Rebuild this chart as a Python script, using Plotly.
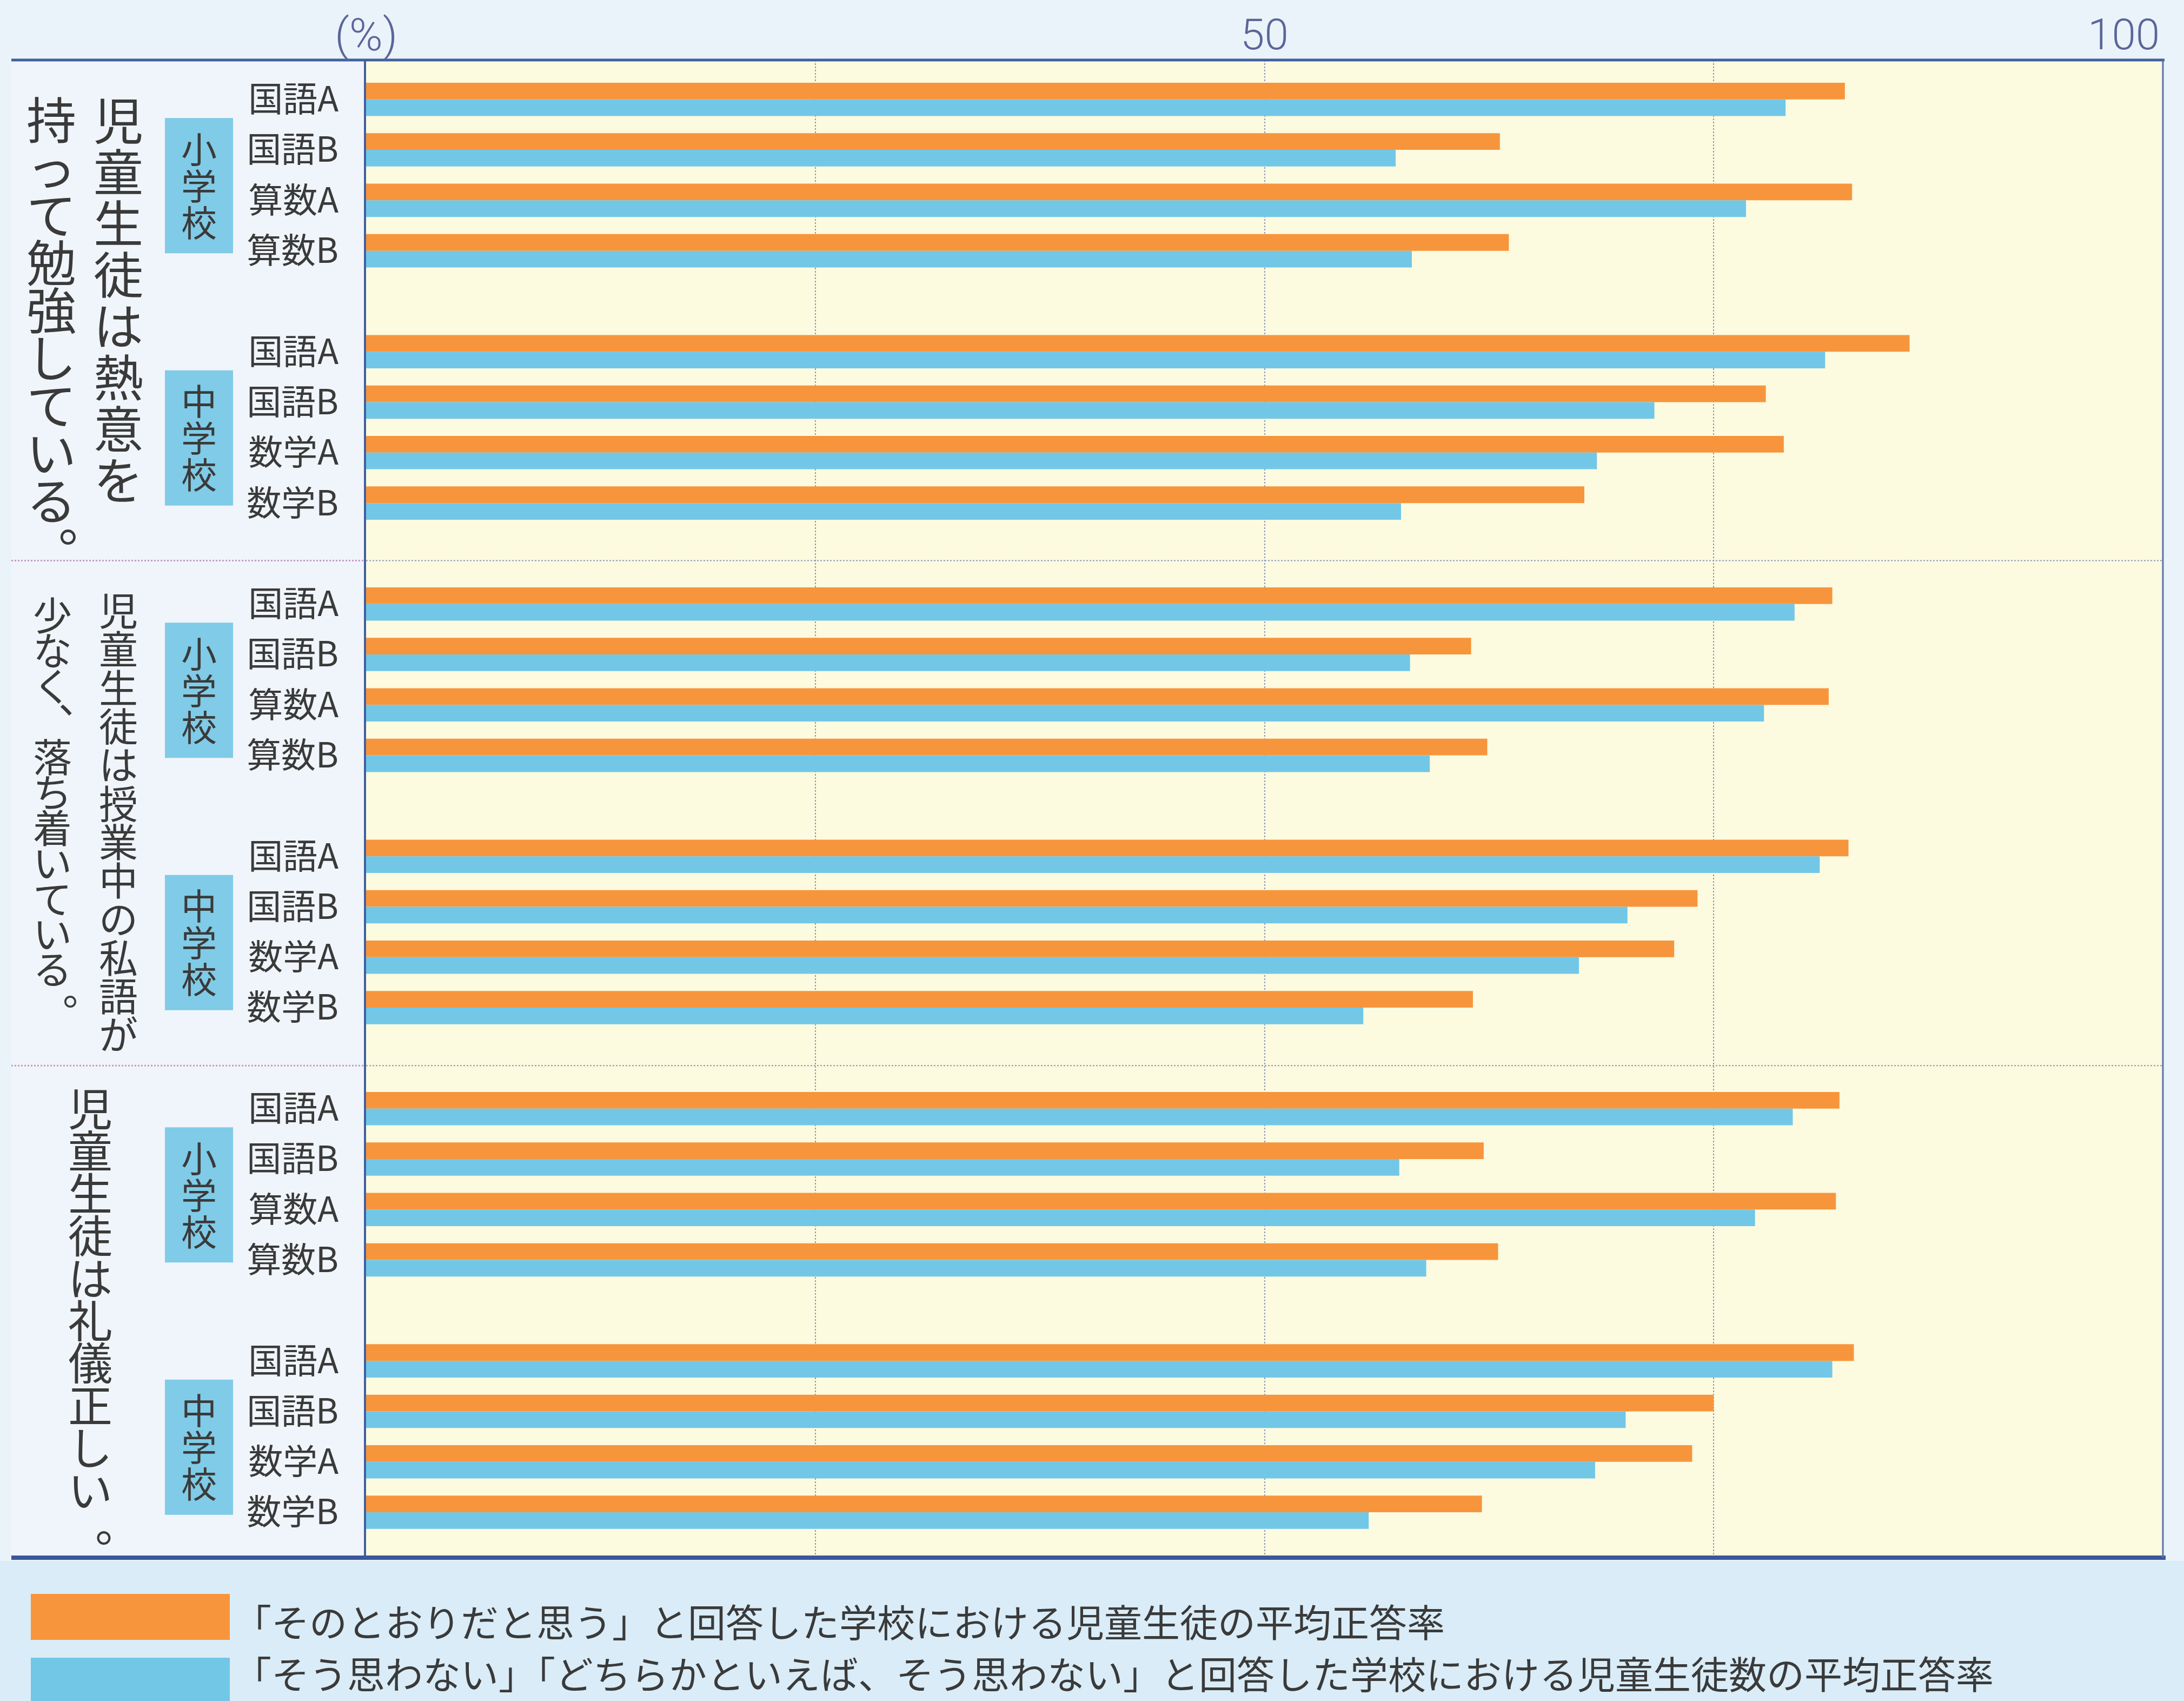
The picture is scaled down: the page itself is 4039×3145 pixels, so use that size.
import plotly.graph_objects as go

# ---------------- data ----------------
section_titles = [
    "児童生徒は熱意を持って勉強している。",
    "児童生徒は授業中の私語が少なく、落ち着いている。",
    "児童生徒は礼儀正しい。",
]
title_columns = [
    ["児童生徒は熱意を", "持って勉強している。"],
    ["児童生徒は授業中の私語が", "少なく、落ち着いている。"],
    ["児童生徒は礼儀正しい。"],
]
schools = ["小学校", "中学校"]
subjects = [
    ["国語A", "国語B", "算数A", "算数B"],
    ["国語A", "国語B", "数学A", "数学B"],
]
# 「そのとおりだと思う」 (orange), per section: 小学校 4 subjects + 中学校 4 subjects
agree = [
    [82.3, 63.1, 82.7, 63.6, 85.9, 77.9, 78.9, 67.8],
    [81.6, 61.5, 81.4, 62.4, 82.5, 74.1, 72.8, 61.6],
    [82.0, 62.2, 81.8, 63.0, 82.8, 75.0, 73.8, 62.1],
]
# 「そう思わない」「どちらかといえば、そう思わない」 (blue)
disagree = [
    [79.0, 57.3, 76.8, 58.2, 81.2, 71.7, 68.5, 57.6],
    [79.5, 58.1, 77.8, 59.2, 80.9, 70.2, 67.5, 55.5],
    [79.4, 57.5, 77.3, 59.0, 81.6, 70.1, 68.4, 55.8],
]
legend_labels = [
    "「そのとおりだと思う」と回答した学校における児童生徒の平均正答率",
    "「そう思わない」「どちらかといえば、そう思わない」と回答した学校における児童生徒数の平均正答率",
]
x_tick_vals = [0, 50, 100]
x_tick_text = ["(%)", "50", "100"]

# ---------------- layout constants ----------------
W, H = 4039, 3145
PLOT_L, PLOT_R, PLOT_T, PLOT_B = 677, 4000, 111, 2880
Y_TOP, Y_BOT = -0.78, 28.90          # slot range (reversed)
UNIT = (PLOT_B - PLOT_T) / (Y_BOT - Y_TOP)
LINE_SPACING = 1.3                   # plotly multi-line spacing (em)

ORANGE = "#f7953c"
BLUE = "#72c7e7"
BOX_BLUE = "#80cbe7"
TEXT = "#3a3a3a"
LINE_BLUE = "#42609f"
JP = "Noto Sans CJK JP"


def px_x(p):
    return p / W


def px_y(p):
    return 1 - p / H


def slot_to_px(s):
    return PLOT_T + (s - Y_TOP) * UNIT


def vertical(text, glyph_size):
    """Stack characters vertically; glyph size set per character."""
    return "<br>".join(f'<span style="font-size:{glyph_size}px">{ch}</span>' for ch in text)


# slots: 10 per section, 5 per school group (one empty slot between groups)
ys, xa, xb, ticktext = [], [], [], []
for s in range(len(section_titles)):
    for g in range(len(schools)):
        for i, name in enumerate(subjects[g]):
            ys.append(10 * s + 5 * g + i)
            xa.append(agree[s][4 * g + i])
            xb.append(disagree[s][4 * g + i])
            ticktext.append(name)

fig = go.Figure()
fig.add_trace(go.Bar(x=xa, y=ys, orientation="h", marker=dict(color=ORANGE, line=dict(width=0)),
                     name=legend_labels[0], showlegend=False))
fig.add_trace(go.Bar(x=xb, y=ys, orientation="h", marker=dict(color=BLUE, line=dict(width=0)),
                     name=legend_labels[1], showlegend=False))

shapes = []
annotations = []

# background areas
shapes.append(dict(type="rect", xref="paper", yref="paper", x0=px_x(21), x1=px_x(PLOT_L),
                   y0=px_y(PLOT_B), y1=px_y(PLOT_T), fillcolor="#f0f5fb", line=dict(width=0), layer="below"))
shapes.append(dict(type="rect", xref="paper", yref="paper", x0=0, x1=1,
                   y0=0, y1=px_y(PLOT_B + 6), fillcolor="#d9ecf7", line=dict(width=0), layer="below"))

# frame lines
shapes.append(dict(type="line", xref="paper", yref="paper", x0=px_x(21), x1=px_x(PLOT_R + 3),
                   y0=px_y(PLOT_T), y1=px_y(PLOT_T), line=dict(color=LINE_BLUE, width=5)))
shapes.append(dict(type="line", xref="paper", yref="paper", x0=px_x(21), x1=px_x(PLOT_R + 5),
                   y0=px_y(PLOT_B), y1=px_y(PLOT_B), line=dict(color="#3a579b", width=8)))
shapes.append(dict(type="line", xref="paper", yref="paper", x0=px_x(PLOT_R), x1=px_x(PLOT_R),
                   y0=px_y(PLOT_B), y1=px_y(PLOT_T), line=dict(color="#5872aa", width=3)))

# section dividers
for d in (9.14, 19.15):
    yp = px_y(slot_to_px(d))
    shapes.append(dict(type="line", xref="paper", yref="paper", x0=px_x(21), x1=px_x(PLOT_L - 4),
                       y0=yp, y1=yp, line=dict(color="#c49ac6", width=3, dash="dot")))
    shapes.append(dict(type="line", xref="paper", yref="paper", x0=px_x(PLOT_L), x1=px_x(PLOT_R),
                       y0=yp, y1=yp, line=dict(color="#8e98b8", width=2, dash="dot")))

# school boxes with vertical labels
SCHOOL_STEP_SLOTS = 0.73
SCHOOL_GLYPH = 66
for s in range(len(section_titles)):
    for g, school in enumerate(schools):
        gc = 10 * s + 5 * g + 1.5
        shapes.append(dict(type="rect", xref="paper", yref="paper", x0=px_x(305), x1=px_x(431),
                           y0=px_y(slot_to_px(gc + 1.55)), y1=px_y(slot_to_px(gc - 1.13)),
                           fillcolor=BOX_BLUE, line=dict(width=0)))
        step_px = SCHOOL_STEP_SLOTS * UNIT
        cy = slot_to_px(gc + 0.21) - 0.05 * SCHOOL_GLYPH
        annotations.append(dict(text=vertical(school, SCHOOL_GLYPH), xref="paper", yref="paper",
                                x=px_x(368), y=px_y(cy), xanchor="center", yanchor="middle",
                                align="center", showarrow=False,
                                font=dict(family=JP, size=step_px / LINE_SPACING, color=TEXT)))

# vertical section titles (columns read right to left)
col_specs = [
    # (section, column, x center px, first char center y px, step px, glyph size,
    #  ink targets of punctuation marks, which sit at the upper right in vertical writing)
    (0, 0, 219, 222, 95, 92, []),
    (0, 1, 95, 221, 88, 92, [(121, 981)]),
    (1, 0, 219, 1128, 71.3, 72, []),
    (1, 1, 97, 1137, 65.4, 72, [(118, 1302), (126, 1842)]),
    (2, 0, 167, 2050, 78.4, 82, [(187, 2834)]),
]
for s, c, xc, y0, step, glyph, punct_targets in col_specs:
    txt = title_columns[s][c]
    runs, start, pi = [], None, 0
    for k, ch in enumerate(txt + "。"[:0]):
        if ch in "、。":
            if start is not None:
                runs.append((start, txt[start:k]))
                start = None
            tx, ty = punct_targets[pi]
            pi += 1
            annotations.append(dict(text=ch, xref="paper", yref="paper",
                                    x=px_x(tx + 0.36 * glyph), y=px_y(ty - 0.22 * glyph),
                                    xanchor="center", yanchor="middle", showarrow=False,
                                    font=dict(family=JP, size=glyph, color=TEXT)))
        elif start is None:
            start = k
    if start is not None:
        runs.append((start, txt[start:]))
    for k0, run in runs:
        cy = y0 + (k0 + (len(run) - 1) / 2) * step - 0.05 * glyph
        annotations.append(dict(text=vertical(run, glyph), xref="paper", yref="paper",
                                x=px_x(xc), y=px_y(cy), xanchor="center", yanchor="middle",
                                align="center", showarrow=False,
                                font=dict(family=JP, size=step / LINE_SPACING, color=TEXT)))

# top axis labels
for v, t in zip(x_tick_vals, x_tick_text):
    annotations.append(dict(text=t, xref="x", yref="paper", x=v, y=px_y(64),
                            xanchor="right" if v == 100 else "center", yanchor="middle",
                            xshift=-4 if v == 100 else 0, showarrow=False,
                            font=dict(family="Roboto", size=84 if v == 0 else 80,
                                      color="#5a6699", weight=300)))

# legend
leg_rows = [(2947, 3032, ORANGE), (3065, 3150, BLUE)]
for k, ((y0, y1, col), lab) in enumerate(zip(leg_rows, legend_labels)):
    shapes.append(dict(type="rect", xref="paper", yref="paper", x0=px_x(57), x1=px_x(425),
                       y0=px_y(y1), y1=px_y(y0), fillcolor=col, line=dict(width=0)))
    if k == 0:
        annotations.append(dict(text=lab, xref="paper", yref="paper", x=px_x(430), y=px_y(2996),
                                xanchor="left", yanchor="middle", showarrow=False,
                                font=dict(family=JP, size=70, color=TEXT)))
    else:
        annotations.append(dict(text=lab, xref="paper", yref="paper", x=px_x(430), y=0,
                                xanchor="left", yanchor="bottom", showarrow=False,
                                font=dict(family=JP, size=70, color=TEXT)))

fig.update_layout(
    width=W, height=H, autosize=False,
    margin=dict(l=0, r=0, t=0, b=0, pad=0),
    paper_bgcolor="#eaf3fa",
    plot_bgcolor="#fcfadf",
    barmode="group", bargap=0.34, bargroupgap=0,
    showlegend=False,
    shapes=shapes,
    annotations=annotations,
    xaxis=dict(domain=[px_x(PLOT_L), px_x(PLOT_R)], range=[0, 100], side="top",
               showticklabels=False, ticks="", tick0=0, dtick=25,
               showgrid=True, gridcolor="#8e98b8", griddash="dot", gridwidth=2,
               zeroline=False, showline=False, fixedrange=True),
    yaxis=dict(domain=[px_y(PLOT_B), px_y(PLOT_T)], range=[Y_BOT, Y_TOP],
               tickmode="array", tickvals=ys, ticktext=ticktext,
               ticks="outside", ticklen=34, tickcolor="rgba(0,0,0,0)",
               tickfont=dict(family=JP, size=64, color=TEXT),
               showgrid=False, zeroline=False,
               showline=True, linecolor=LINE_BLUE, linewidth=4, fixedrange=True),
)

fig.write_html("out.html")
